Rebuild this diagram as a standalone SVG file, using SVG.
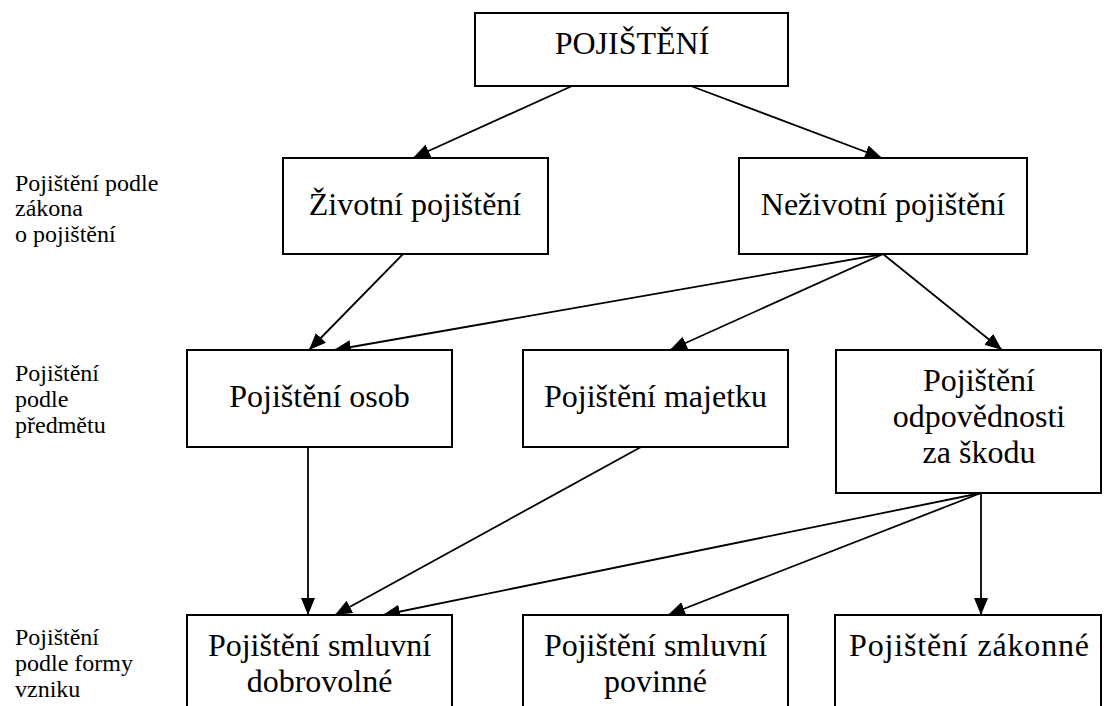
<svg xmlns="http://www.w3.org/2000/svg" width="1112" height="706" viewBox="0 0 1112 706">
<style>
.box{fill:#fff;stroke:#000;stroke-width:2}
.t{font-size:32px;fill:#000;text-anchor:middle}
.lbl{font-size:24px;fill:#000}
.c{stroke:#000;stroke-width:1.8;fill:none;marker-end:url(#ah)}
</style>
<defs>
<marker id="ah" markerUnits="userSpaceOnUse" markerWidth="18" markerHeight="16" refX="17" refY="7" orient="auto">
<path d="M0,0 L17,7 L0,14 z" fill="#000"/>
</marker>
</defs>
<rect width="1112" height="706" fill="#fff"/>
<g font-family="Liberation Serif, Times New Roman, DejaVu Serif, serif">
<g id="labels">
<text class="lbl" x="15" y="191">Pojištění podle</text>
<text class="lbl" x="15" y="216">zákona</text>
<text class="lbl" x="15" y="242">o pojištění</text>
<text class="lbl" x="15" y="381">Pojištění</text>
<text class="lbl" x="15" y="407">podle</text>
<text class="lbl" x="15" y="433">předmětu</text>
<text class="lbl" x="15" y="645">Pojištění</text>
<text class="lbl" x="15" y="671">podle formy</text>
<text class="lbl" x="15" y="697">vzniku</text>
</g>
<g id="connectors">
<line class="c" x1="572" y1="86" x2="413" y2="158"/>
<line class="c" x1="691" y1="86" x2="882" y2="158"/>
<line class="c" x1="403" y1="254" x2="309" y2="350"/>
<line class="c" x1="883" y1="254" x2="334" y2="350"/>
<line class="c" x1="883" y1="254" x2="670" y2="350"/>
<line class="c" x1="883" y1="254" x2="1002" y2="350"/>
<line class="c" x1="308" y1="447" x2="308" y2="615"/>
<line class="c" x1="641" y1="447" x2="335" y2="615"/>
<line class="c" x1="981" y1="493" x2="383" y2="615"/>
<line class="c" x1="981" y1="493" x2="668" y2="615"/>
<line class="c" x1="981" y1="493" x2="981" y2="615"/>
</g>
<g id="n-pojisteni">
<rect class="box" x="475" y="13" width="313" height="73"/>
<text class="t" x="632" y="54">POJIŠTĚNÍ</text>
</g>
<g id="n-zivotni">
<rect class="box" x="283" y="158" width="265" height="96"/>
<text class="t" x="415" y="215">Životní pojištění</text>
</g>
<g id="n-nezivotni">
<rect class="box" x="739" y="158" width="288" height="96"/>
<text class="t" x="883" y="215">Neživotní pojištění</text>
</g>
<g id="n-osob">
<rect class="box" x="187" y="350" width="265" height="97"/>
<text class="t" x="319.5" y="407">Pojištění osob</text>
</g>
<g id="n-majetku">
<rect class="box" x="523" y="350" width="265" height="97"/>
<text class="t" x="655.5" y="407">Pojištění majetku</text>
</g>
<g id="n-odpovednosti">
<rect class="box" x="836" y="350" width="265" height="143"/>
<text class="t" x="979" y="391">Pojištění</text>
<text class="t" x="979" y="427">odpovědnosti</text>
<text class="t" x="979" y="463">za škodu</text>
</g>
<g id="n-dobrovolne">
<rect class="box" x="187" y="615" width="265" height="110"/>
<text class="t" x="319.5" y="656">Pojištění smluvní</text>
<text class="t" x="319.5" y="692">dobrovolné</text>
</g>
<g id="n-povinne">
<rect class="box" x="523" y="615" width="265" height="110"/>
<text class="t" x="655.5" y="656">Pojištění smluvní</text>
<text class="t" x="655.5" y="692">povinné</text>
</g>
<g id="n-zakonne">
<rect class="box" x="835" y="615" width="266" height="110"/>
<text class="t" x="969" y="656" textLength="240" lengthAdjust="spacing">Pojištění zákonné</text>
</g>
</g>
</svg>
